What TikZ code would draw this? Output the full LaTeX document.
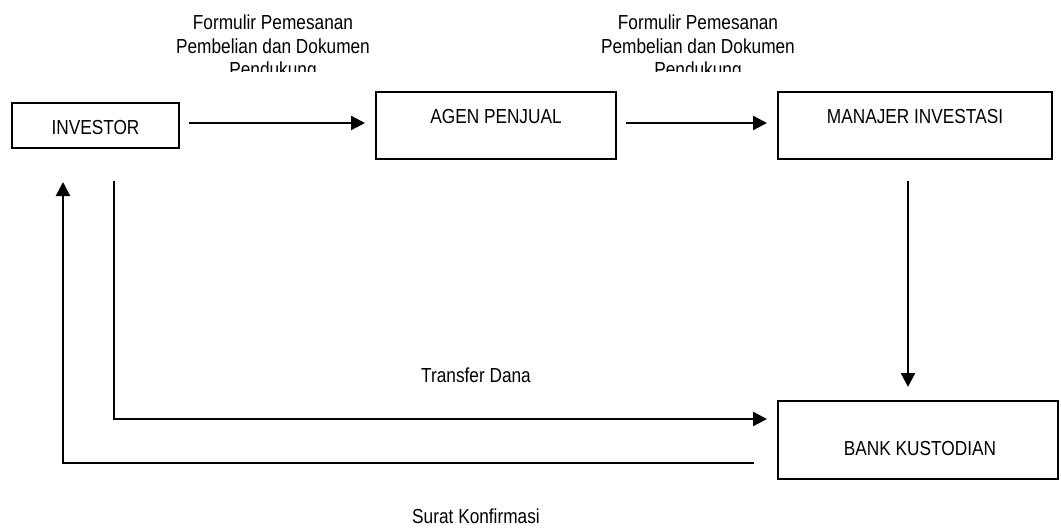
\documentclass[tikz,border=0pt]{standalone}
\usepackage{fontspec}
\setmainfont{Liberation Sans}[FakeStretch=0.85]
\usetikzlibrary{arrows.meta,calc}
\begin{document}
\begin{tikzpicture}[x=1pt,y=-1pt,
  box/.style={draw, line width=1.8pt, inner sep=0pt, outer sep=0pt, anchor=north west},
  txt/.style={inner sep=0pt, outer sep=0pt, align=center, font=\fontsize{20.3}{23.5}\selectfont},
  arr/.style={line width=2.3pt, -{Triangle[length=14pt,width=14pt]}}]
\useasboundingbox (0,0) rectangle (1061,530);
% boxes
\node[box, minimum width=167pt, minimum height=45pt] (inv) at (12,103) {};
\node[box, minimum width=240pt, minimum height=67pt] (agen) at (376,92) {};
\node[box, minimum width=274pt, minimum height=67pt] (mi) at (778,92) {};
\node[box, minimum width=280pt, minimum height=78pt] (bank) at (778,401) {};
% box texts
\node[txt, anchor=base] (invt) at ($(inv.north)+(0,31)$) {INVESTOR};
\node[txt, anchor=base] (agent) at ($(agen.north)+(0,31)$) {AGEN PENJUAL};
\node[txt, anchor=base] (mit) at ($(mi.north)+(0,31)$) {MANAJER INVESTASI};
\node[txt, anchor=base] (bankt) at ($(bank.north)+(2,54)$) {BANK KUSTODIAN};
% clipped labels
\begin{scope}
\clip (0,0) rectangle (1061,71);
\node[txt, anchor=north] (lab1) at (273,15) {Formulir Pemesanan\\Pembelian dan Dokumen\\Pendukung};
\node[txt, anchor=north] (lab2) at (698,15) {Formulir Pemesanan\\Pembelian dan Dokumen\\Pendukung};
\end{scope}
\node[txt, anchor=base] (lab3) at (476,382) {Transfer Dana};
\node[txt, anchor=base] (lab4) at (476,523) {Surat Konfirmasi};
% connectors
\draw[arr] ($(inv.east)+(10,-2.5)$) -- ($(agen.west)+(-11,-2.5)$);
\draw[arr] ($(agen.east)+(10,-2.5)$) -- ($(mi.west)+(-11,-2.5)$);
\draw[arr] ($(mi.south)+(-7,22)$) -- ($(mi.south |- bank.north)+(-7,-14)$);
\draw[arr] ($(inv.south)+(18.5,33)$) |- ($(bank.west)+(-11,-21)$);
\draw[arr] ($(bank.west)+(-24,23)$) -| ($(inv.south)+(-32.5,34)$);
\end{tikzpicture}
\end{document}
